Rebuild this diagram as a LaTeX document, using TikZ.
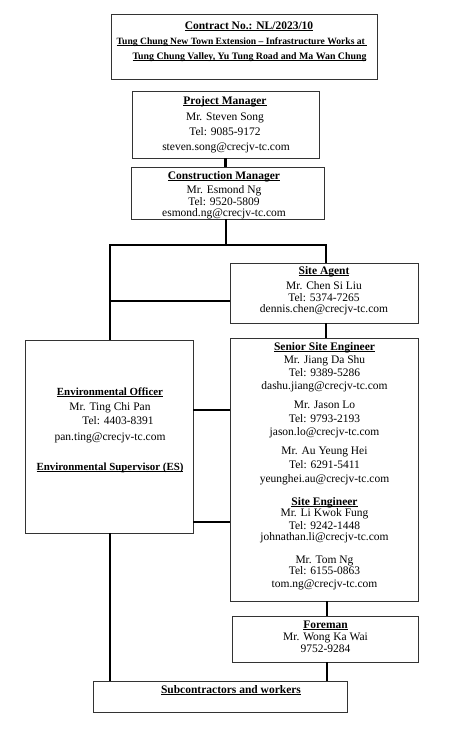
\documentclass[tikz,border=0pt]{standalone}
\usepackage{fontspec}
\setmainfont{Liberation Serif}
\newsavebox\ulbox
\newcommand\uln[1]{\sbox\ulbox{#1}\rlap{\rule[-1.6pt]{\wd\ulbox}{0.7pt}}\usebox\ulbox}
\begin{document}
\begin{tikzpicture}[x=1pt,y=-1pt,
  box/.style={draw=black!80, line width=0.8pt, rectangle, inner sep=0pt, outer sep=0pt},
  conn/.style={line width=2.2pt, black, line join=miter},
  txt/.style={anchor=mid, inner sep=0pt, font=\fontsize{11.5}{13}\selectfont},
  hd/.style={anchor=mid, inner sep=0pt, font=\fontsize{11.5}{13}\selectfont\bfseries},
  hdsm/.style={anchor=mid, inner sep=0pt, font=\fontsize{10.9}{13}\selectfont\bfseries},
  sm/.style={anchor=mid, inner sep=0pt, font=\fontsize{9.6}{11}\selectfont\bfseries}]
\useasboundingbox[fill=white] (0,0) rectangle (453,735);
% boxes
\node[box, minimum width=266pt, minimum height=65pt] (ct) at (244,46.5) {};
\node[box, minimum width=187pt, minimum height=67pt] (pm) at (225.5,124.5) {};
\node[box, minimum width=193pt, minimum height=52pt] (cm) at (227.5,193) {};
\node[box, minimum width=188pt, minimum height=60pt] (sa) at (324,293) {};
\node[box, minimum width=188pt, minimum height=263pt] (sse) at (324,469.5) {};
\node[box, minimum width=168pt, minimum height=193pt] (eo) at (109,436.5) {};
\node[box, minimum width=186pt, minimum height=46pt] (fm) at (325,639) {};
\node[box, minimum width=254pt, minimum height=31pt] (sub) at (220,696.5) {};
% texts: contract
\node[hd] (ct1) at (249,27) {\uln{Contract No.: NL/2023/10}};
\node[sm] (ct2) at (242,42) {\uln{Tung Chung New Town Extension – Infrastructure Works at\ }};
\node[sm, font=\fontsize{9.85}{11}\selectfont\bfseries] (ct3) at (249.5,57) {\uln{Tung Chung Valley, Yu Tung Road and Ma Wan Chung}};
% PM
\node[hd] (pm1) at (225,102) {\uln{Project Manager}};
\node[txt] (pm2) at (225,118) {Mr. Steven Song};
\node[txt] (pm3) at (225,133) {Tel: 9085-9172};
\node[txt] (pm4) at (226,148) {steven.song@crecjv-tc.com};
% CM
\node[hd] (cm1) at (224,177) {\uln{Construction Manager}};
\node[txt] (cm2) at (224,191) {Mr. Esmond Ng};
\node[txt] (cm3) at (224,203) {Tel: 9520-5809};
\node[txt] (cm4) at (224,214) {esmond.ng@crecjv-tc.com};
% SA
\node[hd] (sa1) at (324,272) {\uln{Site Agent}};
\node[txt] (sa2) at (324,287) {Mr. Chen Si Liu};
\node[txt] (sa3) at (324,299) {Tel: 5374-7265};
\node[txt] (sa4) at (324,310) {dennis.chen@crecjv-tc.com};
% SSE
\node[hd] (s1) at (324.5,348) {\uln{Senior Site Engineer}};
\node[txt] (s2) at (324.5,361) {Mr. Jiang Da Shu};
\node[txt] (s3) at (324.5,374) {Tel: 9389-5286};
\node[txt] (s4) at (324.5,387) {dashu.jiang@crecjv-tc.com};
\node[txt] (s5) at (324.5,406) {Mr. Jason Lo};
\node[txt] (s6) at (324.5,420) {Tel: 9793-2193};
\node[txt] (s7) at (324.5,433) {jason.lo@crecjv-tc.com};
\node[txt] (s8) at (324.5,452) {Mr. Au Yeung Hei};
\node[txt] (s9) at (324.5,466) {Tel: 6291-5411};
\node[txt] (s10) at (324.5,480) {yeunghei.au@crecjv-tc.com};
\node[hd] (s11) at (324.5,503) {\uln{Site Engineer}};
\node[txt] (s12) at (324.5,514) {Mr. Li Kwok Fung};
\node[txt] (s13) at (324.5,527) {Tel: 9242-1448};
\node[txt] (s14) at (324.5,538) {johnathan.li@crecjv-tc.com};
\node[txt] (s15) at (324.5,561) {Mr. Tom Ng};
\node[txt] (s16) at (324.5,572) {Tel: 6155-0863};
\node[txt] (s17) at (324.5,585) {tom.ng@crecjv-tc.com};
% EO
\node[hdsm] (eo1) at (110,393) {\uln{Environmental Officer}};
\node[txt] (eo2) at (110,408) {Mr. Ting Chi Pan};
\node[txt] (eo3) at (118,422) {Tel: 4403-8391};
\node[txt] (eo4) at (110,438) {pan.ting@crecjv-tc.com};
\node[hdsm] (eo5) at (110,468) {\uln{Environmental Supervisor (ES)}};
% Foreman
\node[hd] (fm1) at (325.5,626) {\uln{Foreman}};
\node[txt] (fm2) at (325.5,638) {Mr. Wong Ka Wai};
\node[txt] (fm3) at (325.5,650) {9752-9284};
% Sub
\node[hd] (sub1) at (231,691) {\uln{Subcontractors and workers}};
% junction coordinates
\coordinate (jt) at (226,245);
\coordinate (jl) at (110,245);
\coordinate (jr) at (326,245);
\coordinate (jm) at (110,301);
\coordinate (jb) at (327,0);
\coordinate (h1) at (0,410);
\coordinate (h2) at (0,522);
% connectors
\draw[conn] (pm.south) -- (pm.south |- cm.north);
\draw[conn] (cm.south -| jt) -- (jt);
\draw[conn] (jl |- eo.north) -- (jl) -- (jr) -- (jr |- sa.north);
\draw[conn] (jm) -- (jm -| sa.west);
\draw[conn] (sa.south -| jr) -- (jr |- sse.north);
\draw[conn] (eo.east |- h1) -- (sse.west |- h1);
\draw[conn] (eo.east |- h2) -- (sse.west |- h2);
\draw[conn] (sse.south -| jb) -- (fm.north -| jb);
\draw[conn] (fm.south -| jb) -- (sub.north -| jb);
\draw[conn] (eo.south -| jl) -- (sub.north -| jl);
\end{tikzpicture}
\end{document}
